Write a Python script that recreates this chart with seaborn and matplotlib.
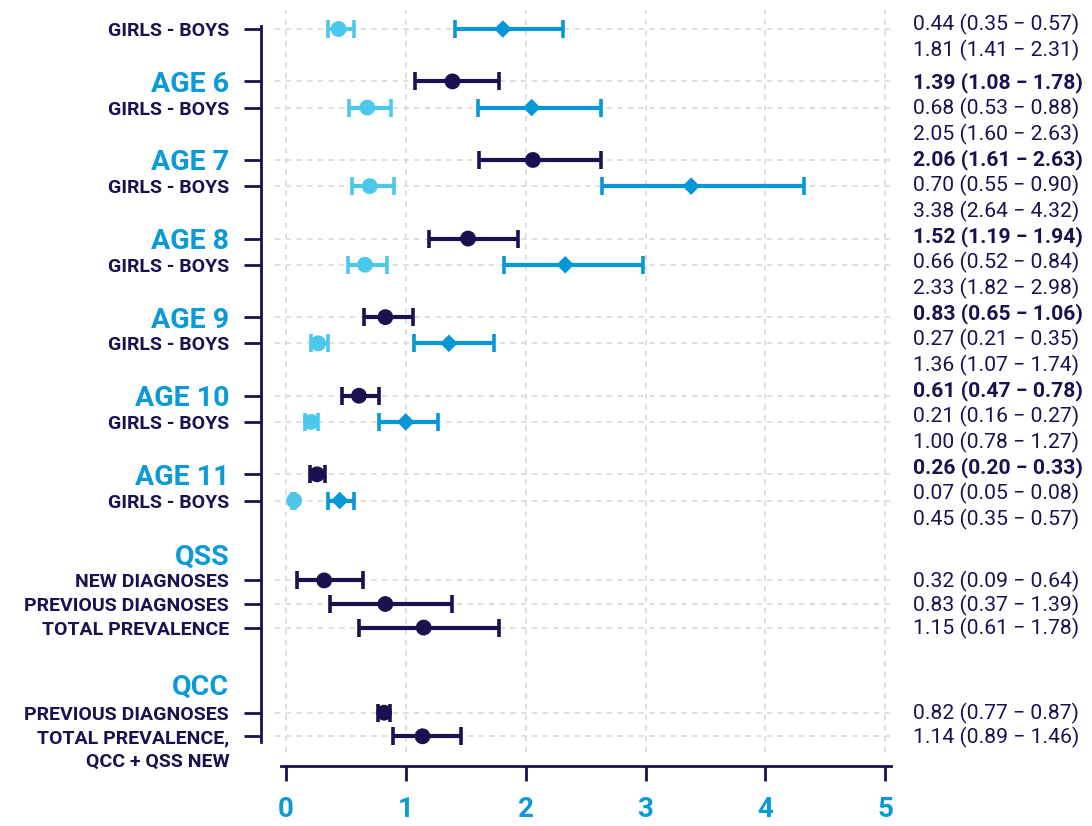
import numpy as np
import pandas as pd
import matplotlib
matplotlib.use("Agg")
import matplotlib.pyplot as plt
import matplotlib.transforms as mtransforms
import seaborn as sns

NAVY = "#1a1250"
LIGHT = "#4cc8ec"
MID = "#0598d8"
HEAD = "#0b9ad8"

# the age 5 header is cut off in the source, only its girls/boys row shows
age_labels = ["AGE 6", "AGE 7", "AGE 8", "AGE 9", "AGE 10", "AGE 11"]
total_est = [1.39, 2.06, 1.52, 0.83, 0.61, 0.26]
total_lo = [1.08, 1.61, 1.19, 0.65, 0.47, 0.20]
total_hi = [1.78, 2.63, 1.94, 1.06, 0.78, 0.33]

girls_est = [0.44, 0.68, 0.70, 0.66, 0.27, 0.21, 0.07]
girls_lo = [0.35, 0.53, 0.55, 0.52, 0.21, 0.16, 0.05]
girls_hi = [0.57, 0.88, 0.90, 0.84, 0.35, 0.27, 0.08]

boys_est = [1.81, 2.05, 3.38, 2.33, 1.36, 1.00, 0.45]
boys_lo = [1.41, 1.60, 2.64, 1.82, 1.07, 0.78, 0.35]
boys_hi = [2.31, 2.63, 4.32, 2.98, 1.74, 1.27, 0.57]

qss_labels = ["NEW DIAGNOSES", "PREVIOUS DIAGNOSES", "TOTAL PREVALENCE"]
qss_est = [0.32, 0.83, 1.15]
qss_lo = [0.09, 0.37, 0.61]
qss_hi = [0.64, 1.39, 1.78]

qcc_labels = ["PREVIOUS DIAGNOSES", "TOTAL PREVALENCE,"]
qcc_est = [0.82, 1.14]
qcc_lo = [0.77, 0.89]
qcc_hi = [0.87, 1.46]

x_ticks = [0, 1, 2, 3, 4, 5]

# --- layout (row positions, top to bottom) ---
gb_y = [3 * i for i in range(len(girls_est))]
age_y = [3 * i + 2 for i in range(len(age_labels))]
qss_head_y = 20.05
qss_y = [21.05, 21.95, 22.85]
qcc_head_y = 25.0
qcc_y = [26.1, 27.0]

sns.set_style("white")
plt.rcParams['font.family'] = ['Roboto', 'DejaVu Sans']

recs = []
for e, l, h, y in zip(total_est + qss_est + qcc_est, total_lo + qss_lo + qcc_lo,
                      total_hi + qss_hi + qcc_hi, age_y + qss_y + qcc_y):
    recs.append({'series': 'total', 'est': e, 'lo': l, 'hi': h, 'y': y})
for e, l, h, y in zip(girls_est, girls_lo, girls_hi, gb_y):
    recs.append({'series': 'girls', 'est': e, 'lo': l, 'hi': h, 'y': y})
for e, l, h, y in zip(boys_est, boys_lo, boys_hi, gb_y):
    recs.append({'series': 'boys', 'est': e, 'lo': l, 'hi': h, 'y': y})
df = pd.DataFrame(recs)

colors = {'total': NAVY, 'girls': LIGHT, 'boys': MID}

fig = plt.figure(figsize=(10.92, 8.26), dpi=100)
ax = fig.add_axes([275 / 1092, 1 - 752 / 826, 620 / 1092, 742 / 826])

for s, sub in df.groupby('series'):
    ax.errorbar(sub['est'], sub['y'], xerr=[sub['est'] - sub['lo'], sub['hi'] - sub['est']],
                fmt='none', ecolor=colors[s], elinewidth=3, capsize=6.5, capthick=2.6, zorder=3)

sns.scatterplot(data=df, x='est', y='y', hue='series', style='series', size='series',
                palette=colors, markers={'total': 'o', 'girls': 'o', 'boys': 'D'},
                sizes={'total': 130, 'girls': 130, 'boys': 80},
                linewidth=0, legend=False, zorder=4, ax=ax)

ax.set_xlim(-0.09, 5.08)
ax.set_ylim(27.6, -0.725)
ax.set_xlabel("")
ax.set_ylabel("")

ax.tick_params(axis='y', length=12, width=2, color=NAVY, pad=11, left=True)
ax.tick_params(axis='x', length=11, width=2, color=NAVY, pad=11, bottom=True)

ax.grid(True, color='#d6d6d6', linestyle=(0, (3.5, 3.5)), linewidth=1.1)
ax.set_axisbelow(True)

sns.despine(ax=ax, offset=10)
for side in ['left', 'bottom']:
    ax.spines[side].set_color(NAVY)
    ax.spines[side].set_linewidth(2)
ax.spines['left'].set_bounds(-0.1, 27.2)
ax.spines['bottom'].set_bounds(-0.04, 5.05)

# y ticks: every row that carries a mark
tick_y = []
tick_lab = []
for i, y in enumerate(gb_y):
    if i > 0:
        tick_y.append(age_y[i - 1])
        tick_lab.append(age_labels[i - 1])
    tick_y.append(y)
    tick_lab.append("GIRLS - BOYS")
tick_y += qss_y + qcc_y
tick_lab += qss_labels + qcc_labels
ax.set_yticks(tick_y)
ax.set_yticklabels(tick_lab)
for t in ax.get_yticklabels():
    if t.get_text().startswith("AGE"):
        t.set_color(HEAD)
        t.set_fontsize(20.5)
        t.set_fontweight('bold')
    else:
        t.set_color(NAVY)
        t.set_fontsize(14)
        t.set_fontweight('semibold')

ax.set_xticks(x_ticks)
ax.set_xticklabels([str(v) for v in x_ticks], color=HEAD, fontsize=20, fontweight='bold')

# section headers and second line of the last label
lab_tr = mtransforms.offset_copy(
    mtransforms.blended_transform_factory(ax.transAxes, ax.transData), fig, x=-33, units='points')
for txt, y in [("QSS", qss_head_y), ("QCC", qcc_head_y)]:
    ax.text(0, y, txt, transform=lab_tr, ha='right', va='center_baseline',
            color=HEAD, fontsize=20.5, fontweight='bold')
ax.text(0, qcc_y[-1] + 0.88, "QCC + QSS NEW", transform=lab_tr, ha='right',
        va='center_baseline', color=NAVY, fontsize=14, fontweight='semibold')

# estimate column on the right
val_tr = mtransforms.blended_transform_factory(ax.transAxes, ax.transData)


def fmt(e, l, h):
    return f"{e:.2f} ({l:.2f} \u2212 {h:.2f})"


lines = []
for i in range(len(girls_est)):
    if i > 0:
        lines.append((fmt(total_est[i - 1], total_lo[i - 1], total_hi[i - 1]), 'bold'))
    lines.append((fmt(girls_est[i], girls_lo[i], girls_hi[i]), 'normal'))
    lines.append((fmt(boys_est[i], boys_lo[i], boys_hi[i]), 'normal'))
for idx, (txt, w) in enumerate(lines):
    y = 0.98 * idx - (0.25 if idx < 2 else 0)
    ax.text(1.029, y, txt, transform=val_tr, ha='left', va='center_baseline',
            color=NAVY, fontsize=15.2, fontweight=w)
for e, l, h, y in zip(qss_est + qcc_est, qss_lo + qcc_lo, qss_hi + qcc_hi, qss_y + qcc_y):
    ax.text(1.029, y - 0.05, fmt(e, l, h), transform=val_tr, ha='left',
            va='center_baseline', color=NAVY, fontsize=15.2)

fig.savefig("out.png", dpi=100)
